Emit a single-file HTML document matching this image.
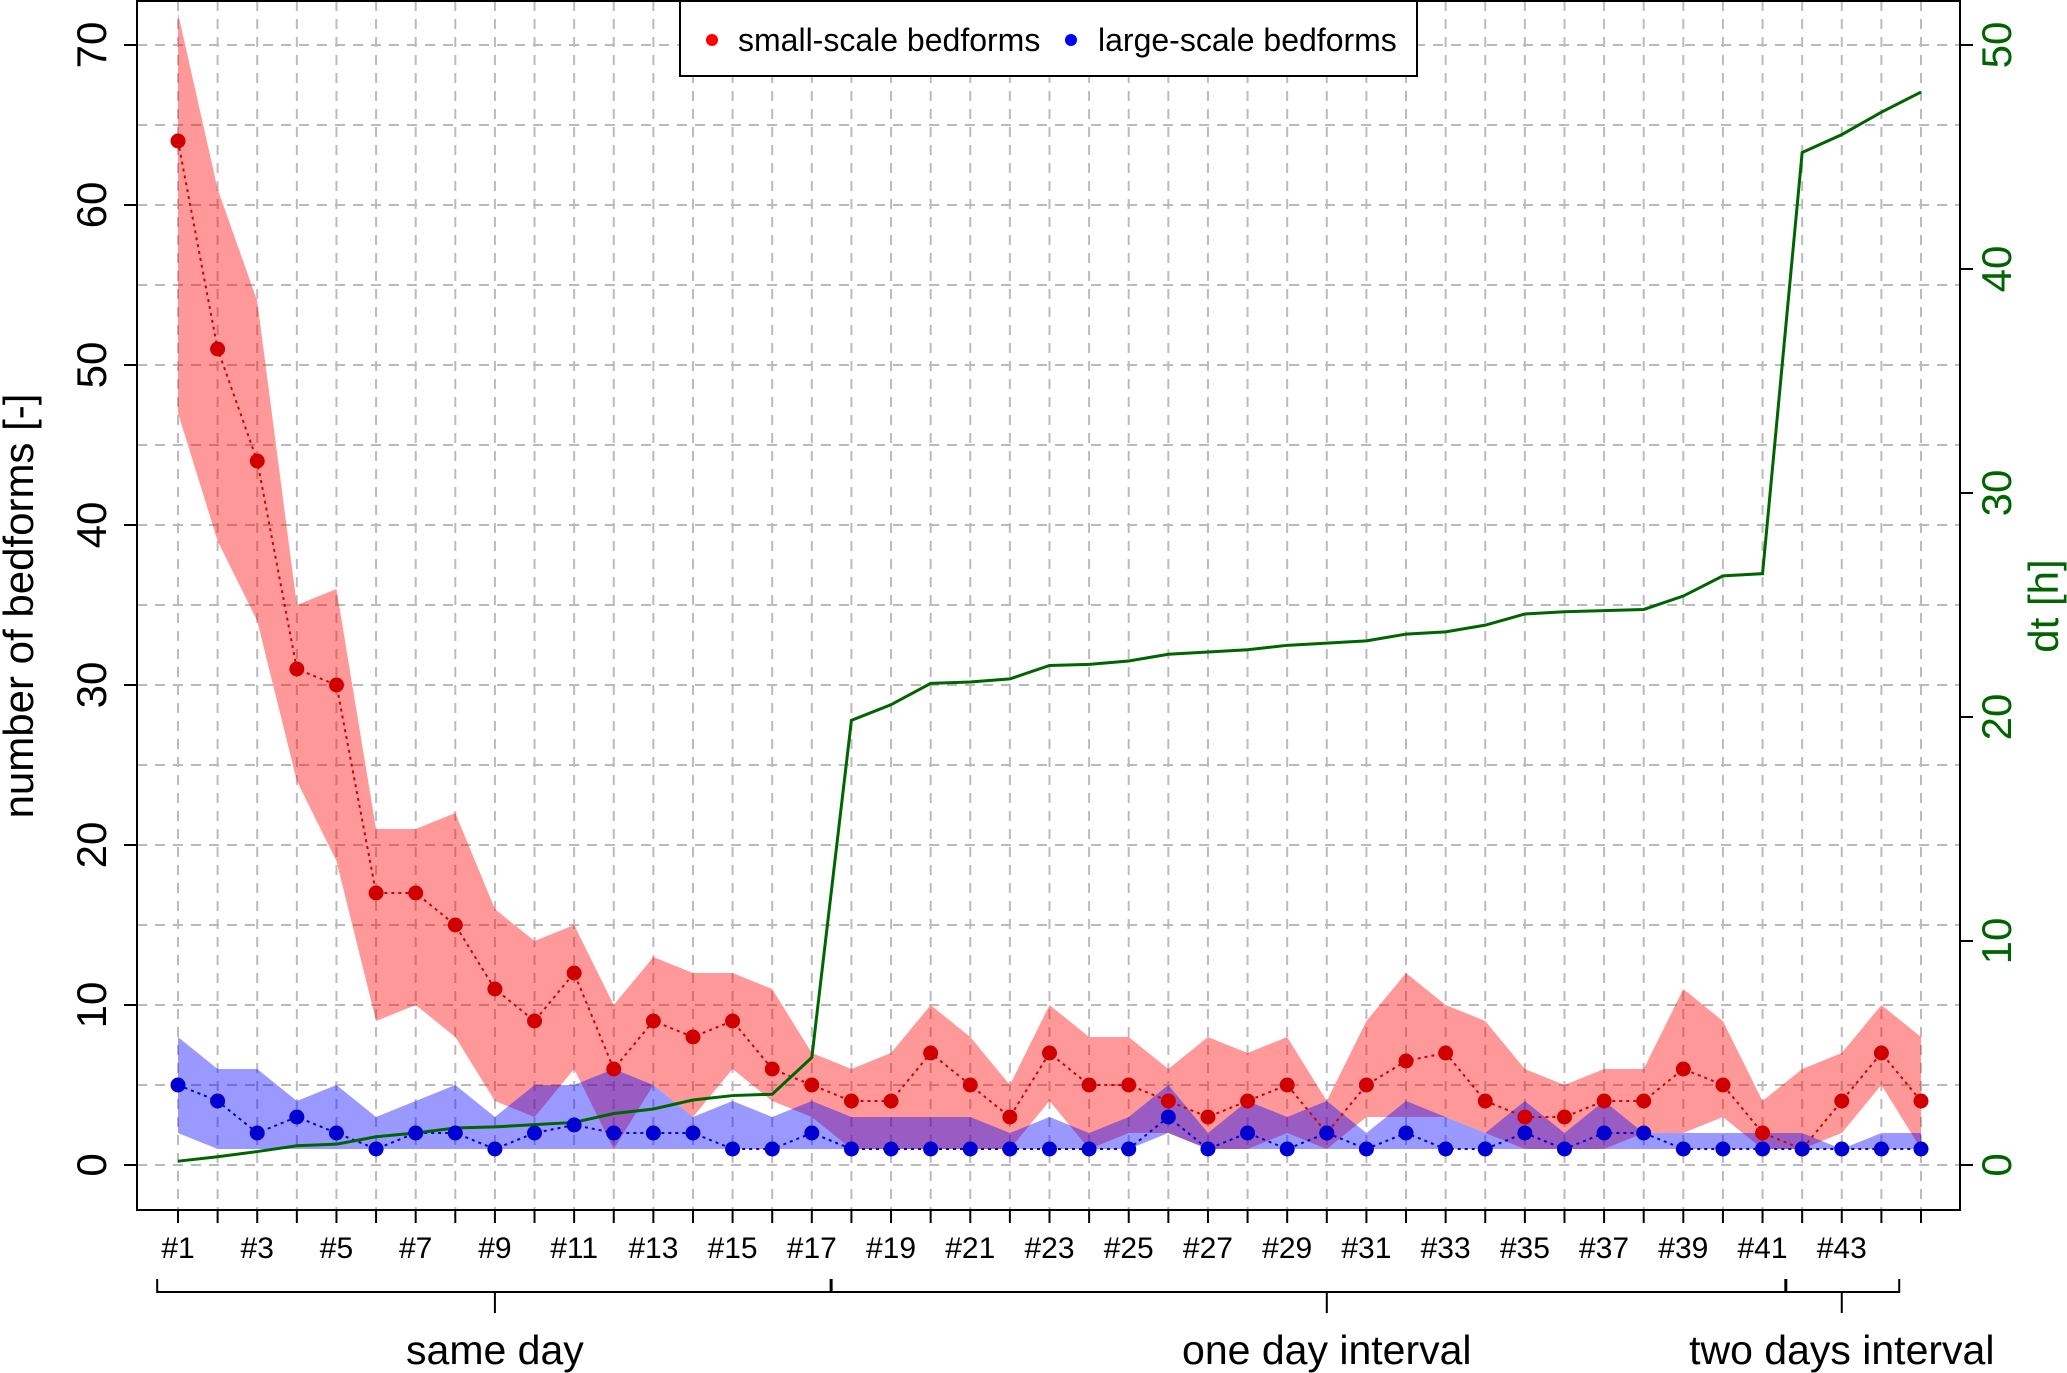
<!DOCTYPE html>
<html><head><meta charset="utf-8"><style>
html,body{margin:0;padding:0;background:#fff}
svg{display:block;font-family:"Liberation Sans",sans-serif}
</style></head><body>
<svg id="chart" width="2067" height="1373" viewBox="0 0 2067 1373">
<g id="grid"></g>
<g id="bands"></g>
<g id="lines"></g>
<g id="pts"></g>
<g id="axes"></g>
<g id="legend">
<rect x="680" y="1" width="737" height="75" fill="#fff" stroke="#000" stroke-width="2"/>
<circle cx="712" cy="40" r="6" fill="#ff0000"/>
<text x="738" y="51" font-size="32">small-scale bedforms</text>
<circle cx="1071" cy="40" r="6" fill="#0000ff"/>
<text x="1098" y="51" font-size="32">large-scale bedforms</text>
</g>
</svg>
<script>
const idx = [1,2,3,4,5,6,7,8,9,10,11,12,13,14,15,16,17,18,19,20,21,22,23,24,25,26,27,28,29,30,31,32,33,34,35,36,37,38,39,40,41,42,43,44,45];
const smallMed = [64,51,44,31,30,17,17,15,11,9,12,6,9,8,9,6,5,4,4,7,5,3,7,5,5,4,3,4,5,2,5,6.5,7,4,3,3,4,4,6,5,2,1,4,7,4];
const smallHi = [72,61,54,35,36,21,21,22,16,14,15,10,13,12,12,11,7,6,7,10,8,5,10,8,8,6,8,7,8,4,9,12,10,9,6,5,6,6,11,9,4,6,7,10,8];
const smallLo = [47,39,34,24,19,9,10,8,4,3,6,1,5,3,6,4,3,1,1,1,1,1,4,1,2,2,1,1,2,1,3,3,3,2,1,1,1,2,2,3,1,1,2,5,1];
const largeMed = [5,4,2,3,2,1,2,2,1,2,2.5,2,2,2,1,1,2,1,1,1,1,1,1,1,1,3,1,2,1,2,1,2,1,1,2,1,2,2,1,1,1,1,1,1,1];
const largeHi = [8,6,6,4,5,3,4,5,3,5,5,6,5,3,4,3,4,3,3,3,3,2,3,2,3,5,2,4,3,4,2,4,3,2,4,2,4,2,2,2,2,2,1,2,2];
const largeLo = [2,1,1,1,1,1,1,1,1,1,1,1,1,1,1,1,1,1,1,1,1,1,1,1,1,2,1,1,1,1,1,1,1,1,1,1,1,1,1,1,1,1,1,1,1];
const dtVals = [0.17,0.37,0.6,0.86,0.93,1.26,1.43,1.65,1.7,1.8,1.9,2.3,2.5,2.9,3.1,3.16,4.8,19.85,20.55,21.5,21.56,21.7,22.3,22.35,22.5,22.8,22.9,23.0,23.2,23.3,23.4,23.7,23.8,24.1,24.6,24.7,24.75,24.8,25.4,26.3,26.4,45.2,46.0,47.0,47.9];
const leftTicks = [0,10,20,30,40,50,60,70];
const rightTicks = [0,10,20,30,40,50];
const groups = [{label:"same day",from:0.5,to:17.5,mid:9},{label:"one day interval",from:17.5,to:41.6,mid:30},{label:"two days interval",from:41.6,to:44.45,mid:43}];

const NS="http://www.w3.org/2000/svg";
const L=137,R=1960,T=1,B=1210;
const xS=i=>178+(i-1)*(1921-178)/44;
const yS=v=>1165-v*16;
const yD=v=>1165-v*22.4;
function mk(tag,attrs,parent){const e=document.createElementNS(NS,tag);for(const k in attrs)e.setAttribute(k,attrs[k]);parent.appendChild(e);return e;}
const grid=document.getElementById('grid'),bands=document.getElementById('bands'),lines=document.getElementById('lines'),pts=document.getElementById('pts'),axes=document.getElementById('axes');

idx.forEach(i=>{const l=mk('line',{x1:xS(i),x2:xS(i),y1:T,y2:B,stroke:'#bbb','stroke-width':2,'stroke-dasharray':'10,8'},grid);

});
for(let v=0;v<=70;v+=5){const l=mk('line',{x1:L,x2:R,y1:yS(v),y2:yS(v),stroke:'#bbb','stroke-width':2,'stroke-dasharray':'10,8'},grid);

}

function band(hi,lo,fill){
 let d='M'+idx.map((i,k)=>xS(i)+','+yS(hi[k])).join(' L');
 d+=' L'+idx.slice().reverse().map((i)=>xS(i)+','+yS(lo[i-1])).join(' L')+' Z';
 const p=mk('path',{d:d,fill:fill},bands);
 
 return p;
}
const b1=band(smallHi,smallLo,'rgba(255,0,0,0.4)');

const b2=band(largeHi,largeLo,'rgba(0,0,255,0.4)');


function series(vals,color,name){
 const pl=mk('polyline',{points:idx.map((i,k)=>xS(i)+','+yS(vals[k])).join(' '),fill:'none',stroke:color,'stroke-width':2,'stroke-dasharray':'3,4'},lines);
 
 
 idx.forEach((i,k)=>{const c=mk('circle',{cx:xS(i),cy:yS(vals[k]),r:7.5,fill:color},pts);
 
 });
}
series(smallMed,'#d00000','small-scale');
series(largeMed,'#0000d0','large-scale');
const dl=mk('polyline',{points:idx.map((i,k)=>xS(i)+','+yD(dtVals[k])).join(' '),fill:'none',stroke:'#006400','stroke-width':3},lines);



const box=mk('rect',{x:L,y:T,width:R-L,height:B-T,fill:'none',stroke:'#000','stroke-width':2},axes);


leftTicks.forEach(v=>{mk('line',{x1:L-13,x2:L,y1:yS(v),y2:yS(v),stroke:'#000','stroke-width':2},axes);
 const t=mk('text',{x:0,y:0,'font-size':42,'text-anchor':'middle',transform:`translate(106,${yS(v)}) rotate(-90)`},axes);
 t.textContent=v;
 
 });
rightTicks.forEach(v=>{mk('line',{x1:R,x2:R+13,y1:yD(v),y2:yD(v),stroke:'#000','stroke-width':2},axes);
 const t=mk('text',{x:0,y:0,'font-size':42,fill:'#006400','text-anchor':'middle',transform:`translate(2011,${yD(v)}) rotate(-90)`},axes);
 t.textContent=v;
 
 });
idx.forEach(i=>{mk('line',{x1:xS(i),x2:xS(i),y1:B,y2:B+13,stroke:'#000','stroke-width':2},axes);
 if(i%2===1&&i<=43){const t=mk('text',{x:xS(i),y:1258,'font-size':30,'text-anchor':'middle'},axes);
 t.textContent='#'+i;
 
 }});
groups.forEach(g=>{
 const x1=xS(g.from)-1,x2=xS(g.to),xm=xS(g.mid);
 const p=mk('path',{d:`M${x1},1279 L${x1},1292 L${x2},1292 L${x2},1279 M${xm},1292 L${xm},1313`,fill:'none',stroke:'#000','stroke-width':2},axes);
 
 
 const t=mk('text',{x:xm,y:1364,'font-size':41,'text-anchor':'middle'},axes);
 t.textContent=g.label;
 
 });
const yl=mk('text',{x:0,y:0,'font-size':42,'text-anchor':'middle',transform:'translate(33,606) rotate(-90)'},axes);
yl.textContent='number of bedforms [-]';


const rl=mk('text',{x:0,y:0,'font-size':42,fill:'#006400','text-anchor':'middle',transform:'translate(2058,606) rotate(-90)'},axes);
rl.textContent='dt [h]';


</script>
</body></html>
